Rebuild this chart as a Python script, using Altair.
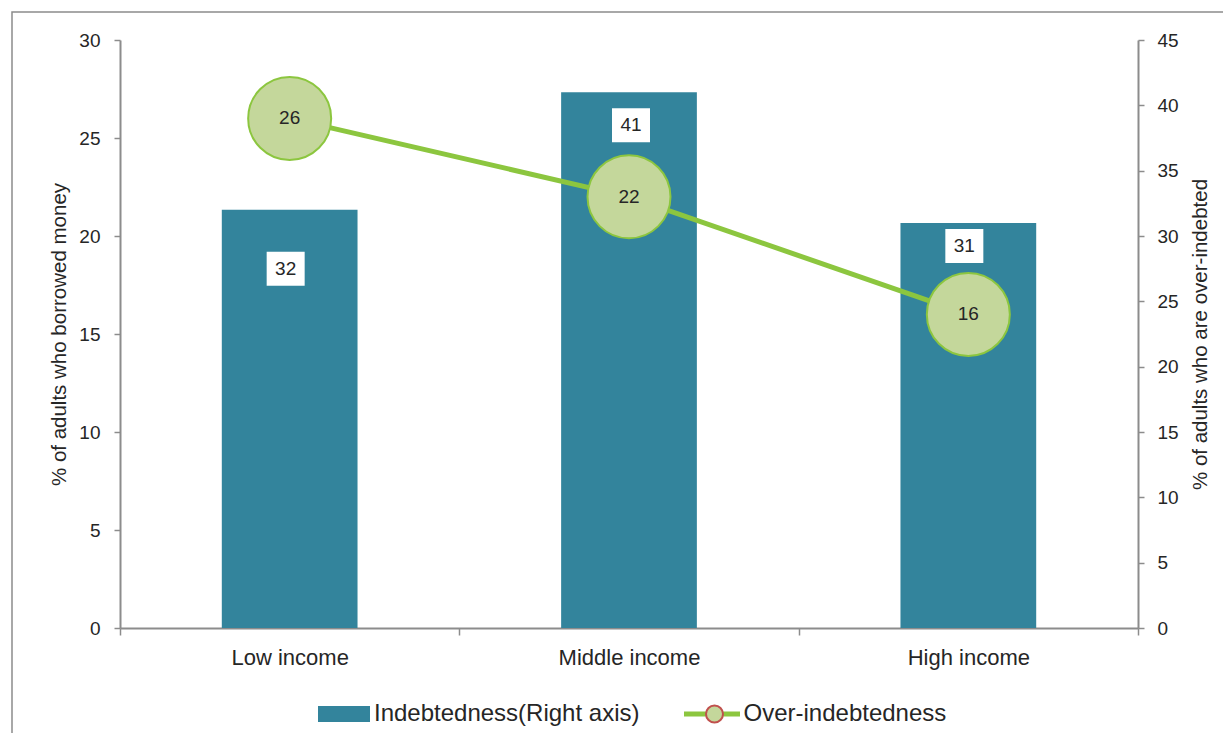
import altair as alt
import pandas as pd

# ---------------- data ----------------
categories = ["Low income", "Middle income", "High income"]
indebtedness = [32, 41, 31]          # bars, right axis
over_indebtedness = [26, 22, 16]     # line, left axis
left_ticks = [0, 5, 10, 15, 20, 25, 30]
right_ticks = [0, 5, 10, 15, 20, 25, 30, 35, 40, 45]

bar_series = "Indebtedness(Right axis)"
line_series = "Over-indebtedness"
left_title = "% of adults who borrowed money"
right_title = "% of adults who are over-indebted"

df = pd.DataFrame({"cat": categories, "indebt": indebtedness, "over": over_indebtedness,
                   "bar_s": [bar_series] * 3, "line_s": [line_series] * 3,
                   "mark_s": ["marker"] * 3})

# ---------------- style ----------------
TEAL = "#33849c"
GREEN = "#8cc63f"
LIGHT = "#c4d79b"
RED = "#c0504d"
AXIS = "#8c8c8c"
TXT = "#262626"
FONT = "Liberation Sans"

# hand-placed value boxes (pixel nudges, as in the original)
box_dy = [59, 33, 23]
box_dx = [-4, 2, -4]

x = alt.X(
    "cat:N", sort=categories, title=None,
    scale=alt.Scale(paddingInner=0, paddingOuter=0),
    axis=alt.Axis(labelAngle=0, labelFontSize=22, labelColor=TXT, labelPadding=12,
                  tickBand="extent", tickSize=7, tickColor=AXIS, tickWidth=1.5,
                  domainColor=AXIS, domainWidth=2),
)

y_right = alt.Y(
    "indebt:Q",
    scale=alt.Scale(domain=[0, 45], nice=False),
    axis=alt.Axis(orient="right", values=right_ticks, title=right_title,
                  labelFontSize=19, labelColor=TXT, labelPadding=13,
                  tickSize=6, tickColor=AXIS, tickWidth=1.5,
                  domainColor=AXIS, domainWidth=2, grid=False,
                  titleFontSize=20.5, titleFontWeight="normal", titleColor=TXT,
                  titleAngle=270, titleBaseline="top", titlePadding=12),
)

y_left = alt.Y(
    "over:Q",
    scale=alt.Scale(domain=[0, 30], nice=False),
    axis=alt.Axis(orient="left", values=left_ticks, title=left_title,
                  labelFontSize=19, labelColor=TXT, labelPadding=14,
                  tickSize=6, tickColor=AXIS, tickWidth=1.5,
                  domainColor=AXIS, domainWidth=2, grid=False,
                  titleFontSize=20.5, titleFontWeight="normal", titleColor=TXT,
                  titlePadding=9),
)

base = alt.Chart(df)

bars = base.mark_bar(width=alt.RelativeBandSize(0.4)).encode(
    x=x, y=y_right,
    color=alt.Color("bar_s:N", scale=alt.Scale(domain=[bar_series], range=[TEAL]),
                    legend=alt.Legend(orient="none", legendX=198, legendY=648, title=None,
                                      symbolType="M-1,-0.31H1V0.31H-1Z", symbolSize=2704,
                                      symbolStrokeWidth=0, labelFontSize=24, labelColor=TXT,
                                      labelOffset=4, padding=0, labelFont=FONT,
                                      labelLimit=500, symbolOpacity=1)),
)

bar_layers = [bars]
for i, c in enumerate(categories):
    sub = base.transform_filter(alt.datum.cat == c)
    bar_layers.append(
        sub.mark_point(shape="M-1,-0.895H1V0.895H-1Z", size=1444, filled=True, fill="white",
                       strokeWidth=0, opacity=1, yOffset=box_dy[i], xOffset=box_dx[i]).encode(
            x=x, y=y_right)
    )
    bar_layers.append(
        sub.mark_text(fontSize=19, color=TXT, font=FONT, baseline="middle",
                      yOffset=box_dy[i], xOffset=box_dx[i]).encode(
            x=x, y=y_right, text=alt.Text("indebt:Q"))
    )
bar_group = alt.layer(*bar_layers)

line = base.mark_line(strokeWidth=5).encode(
    x=x, y=y_left,
    stroke=alt.Stroke("line_s:N", scale=alt.Scale(domain=[line_series], range=[GREEN]),
                      legend=alt.Legend(orient="none", legendX=561.5, legendY=643.5, title=None,
                                        symbolType="stroke", symbolSize=3136, symbolStrokeWidth=5,
                                        labelFontSize=24, labelColor=TXT, labelOffset=1,
                                        padding=0, labelFont=FONT, labelLimit=500)),
)
points = base.mark_point(filled=True, fill=LIGHT, stroke=GREEN, strokeWidth=2,
                         size=6889, opacity=1, shape="circle").encode(
    x=x, y=y_left)
# invisible twin of the markers that only carries the legend's marker symbol
legend_marker = base.mark_point(filled=True, fill=LIGHT, stroke=RED, strokeWidth=2,
                                size=6889, opacity=0).encode(
    x=x, y=y_left,
    shape=alt.Shape("mark_s:N", scale=alt.Scale(domain=["marker"], range=["circle"]),
                    legend=alt.Legend(orient="none", legendX=582.5, legendY=662, title=None,
                                      symbolSize=289, symbolStrokeWidth=2,
                                      symbolOpacity=1, labelExpr="''", labelFontSize=24,
                                      padding=0)),
)
point_text = base.mark_text(fontSize=19, color=TXT, font=FONT, baseline="middle").encode(
    x=x, y=y_left, text=alt.Text("over:Q"))
line_group = alt.layer(line, legend_marker, points, point_text)

frame = alt.Chart(pd.DataFrame({"f": [0]})).mark_rect(
    fill=None, stroke=AXIS, strokeWidth=1.5).encode(
    x=alt.value(-108), x2=alt.value(1300), y=alt.value(-28), y2=alt.value(800))

chart = alt.layer(frame, bar_group, line_group).resolve_scale(y="independent").properties(
    width=1018, height=588,
    padding={"left": 112, "top": 32, "right": 85, "bottom": 105},
    autosize=alt.AutoSizeParams(type="none"),
).configure(font=FONT).configure_view(stroke=None)

chart.save("out.html", embed_options={"renderer": "svg", "actions": False})
